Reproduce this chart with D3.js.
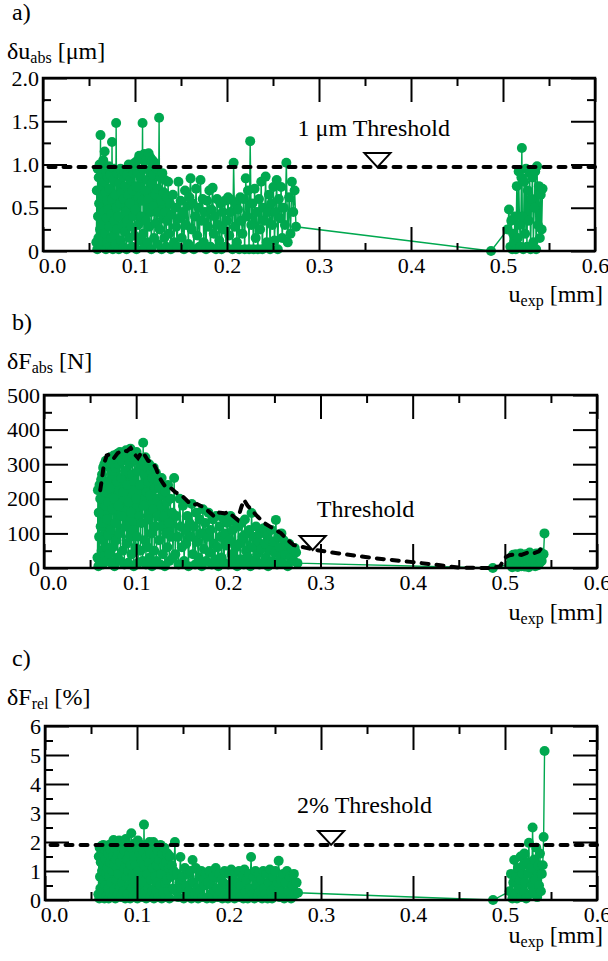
<!DOCTYPE html>
<html lang="en">
<head>
<meta charset="UTF-8">
<title>Abweichungen</title>
<script src="https://d3js.org/d3.v7.min.js"></script>
<style>
  body { margin: 0; background: #fff; }
  svg text { font-family: "Liberation Serif", "Times New Roman", serif; fill: #000; }
</style>
</head>
<body>
<script>
// measured displacement u_exp [mm], shared by all three panels
var uExp = [
  0.0580,0.0585,0.0590,0.0594,0.0598,0.0602,0.0606,0.0610,0.0615,0.0620,
  0.0625,0.0630,0.0634,0.0638,0.0642,0.0646,0.0650,0.0655,0.0660,0.0665,
  0.0670,0.0675,0.0680,0.0684,0.0688,0.0692,0.0696,0.0700,0.0705,0.0710,
  0.0715,0.0720,0.0725,0.0730,0.0735,0.0740,0.0745,0.0750,0.0755,0.0760,
  0.0765,0.0770,0.0775,0.0780,0.0785,0.0790,0.0795,0.0800,0.0806,0.0812,
  0.0818,0.0824,0.0830,0.0836,0.0842,0.0848,0.0854,0.0860,0.0866,0.0872,
  0.0878,0.0884,0.0890,0.0896,0.0902,0.0908,0.0914,0.0920,0.0926,0.0932,
  0.0938,0.0944,0.0950,0.0956,0.0962,0.0968,0.0974,0.0980,0.0986,0.0992,
  0.0998,0.1004,0.1010,0.1016,0.1022,0.1028,0.1034,0.1040,0.1046,0.1052,
  0.1058,0.1064,0.1070,0.1076,0.1082,0.1088,0.1094,0.1100,0.1106,0.1112,
  0.1118,0.1124,0.1130,0.1136,0.1142,0.1148,0.1154,0.1160,0.1166,0.1172,
  0.1178,0.1184,0.1190,0.1196,0.1202,0.1208,0.1214,0.1220,0.1227,0.1234,
  0.1241,0.1248,0.1255,0.1262,0.1269,0.1276,0.1283,0.1290,0.1297,0.1304,
  0.1311,0.1318,0.1325,0.1332,0.1339,0.1346,0.1353,0.1360,0.1370,0.1380,
  0.1390,0.1400,0.1412,0.1424,0.1436,0.1448,0.1460,0.1472,0.1484,0.1496,
  0.1508,0.1520,0.1532,0.1544,0.1556,0.1568,0.1580,0.1592,0.1604,0.1616,
  0.1628,0.1640,0.1652,0.1664,0.1676,0.1688,0.1700,0.1712,0.1724,0.1736,
  0.1748,0.1760,0.1772,0.1784,0.1796,0.1808,0.1820,0.1832,0.1844,0.1856,
  0.1868,0.1880,0.1892,0.1904,0.1916,0.1928,0.1940,0.1952,0.1964,0.1976,
  0.1988,0.2000,0.2012,0.2024,0.2036,0.2048,0.2060,0.2072,0.2084,0.2096,
  0.2108,0.2120,0.2132,0.2144,0.2156,0.2168,0.2180,0.2192,0.2204,0.2216,
  0.2228,0.2240,0.2252,0.2264,0.2276,0.2288,0.2300,0.2312,0.2324,0.2336,
  0.2348,0.2360,0.2372,0.2384,0.2396,0.2408,0.2420,0.2432,0.2444,0.2456,
  0.2468,0.2480,0.2492,0.2504,0.2516,0.2528,0.2540,0.2552,0.2564,0.2576,
  0.2588,0.2600,0.2615,0.2630,0.2645,0.2660,0.2675,0.2690,0.2705,0.2720,
  0.2735,0.2750,0.4870,0.5050,0.5065,0.5080,0.5090,0.5100,0.5110,0.5120,
  0.5130,0.5140,0.5150,0.5160,0.5170,0.5180,0.5190,0.5200,0.5205,0.5210,
  0.5220,0.5230,0.5240,0.5250,0.5260,0.5270,0.5280,0.5290,0.5300,0.5310,
  0.5320,0.5330,0.5340,0.5350,0.5360,0.5370,0.5380,0.5390,0.5400,0.5410,
  0.5420,0.5430
];

// a) absolute displacement error [um]
var duAbs = [
  0.10,0.70,0.02,0.95,0.40,0.15,0.85,0.55,1.00,0.25,
  1.34,0.05,0.62,0.90,0.30,0.75,0.12,1.05,0.45,0.80,
  1.15,0.20,0.68,0.02,0.92,0.38,0.58,0.10,0.85,0.48,
  0.98,0.28,0.72,0.05,0.88,0.42,0.15,1.26,0.60,0.02,
  0.82,0.35,0.95,0.18,0.65,0.08,1.48,0.50,0.25,0.90,
  0.40,0.02,0.78,0.55,0.95,0.12,0.68,0.30,0.86,0.05,
  0.60,0.92,0.22,0.75,0.45,0.02,0.88,0.35,0.65,1.00,
  0.15,0.55,0.82,0.28,0.95,0.05,0.70,0.40,0.90,0.18,
  1.02,0.48,0.75,0.02,0.92,1.05,0.30,0.62,1.10,0.12,
  0.85,0.40,1.08,0.58,1.48,0.20,0.95,1.12,0.05,0.70,
  0.35,1.05,0.82,0.10,0.60,1.13,0.28,0.92,1.08,0.45,
  0.02,0.78,1.05,0.52,0.88,0.15,1.02,0.65,0.32,0.95,
  0.08,0.72,0.45,1.54,0.25,0.85,0.58,0.02,0.90,0.38,
  0.68,0.15,0.82,0.45,0.05,0.62,0.35,0.80,0.20,0.55,
  0.02,0.42,0.65,0.10,0.50,0.28,0.05,0.80,0.38,0.58,
  0.15,0.45,0.02,0.70,0.30,0.52,0.08,0.62,0.84,0.25,
  0.55,0.02,0.40,0.72,0.18,0.50,0.05,0.82,0.35,0.60,
  0.10,0.45,0.02,0.58,0.28,0.70,0.05,0.48,0.73,0.20,
  0.40,0.02,0.60,0.30,0.12,0.55,0.02,0.45,0.25,0.58,
  0.05,0.35,0.62,0.18,0.45,0.59,0.02,1.02,0.28,0.55,
  0.10,0.48,0.02,0.62,0.35,0.20,0.60,0.02,0.84,0.40,
  0.70,0.02,1.27,0.30,0.55,0.02,0.72,0.15,0.45,0.02,
  0.60,0.25,0.80,0.02,0.50,0.35,0.86,0.10,0.45,0.65,
  0.02,0.55,0.30,0.74,0.12,0.45,0.82,0.02,0.60,0.38,
  0.74,0.15,0.50,0.30,1.02,0.10,0.62,0.20,0.80,0.45,
  0.70,0.28,0.00,0.25,0.48,0.05,0.35,0.02,0.20,0.10,
  0.40,0.02,0.75,0.15,0.92,0.30,0.05,0.85,1.19,0.40,
  0.02,0.80,0.20,0.95,0.05,0.70,0.35,0.90,0.02,0.60,
  0.85,0.10,0.50,0.92,0.02,0.98,0.30,0.75,0.15,0.65,
  0.25,0.72
];

// b) absolute force error [N]
var dFabs = [
  30,225,5,160,90,240,15,200,120,255,
  50,270,130,10,290,80,220,300,35,180,
  310,60,250,140,20,300,190,95,315,40,
  230,320,110,15,280,170,300,60,325,200,
  5,290,130,315,80,250,330,30,180,300,
  100,335,20,260,150,310,50,220,330,10,
  280,120,340,70,240,320,15,190,300,90,
  345,160,40,270,330,110,5,250,310,60,
  200,335,90,280,15,320,150,240,50,300,
  130,310,20,362,180,270,80,320,10,220,
  290,60,250,140,300,30,210,280,100,5,
  260,170,290,50,230,120,275,20,200,150,
  250,80,230,10,180,260,120,40,210,150,
  5,220,100,190,60,240,130,20,200,90,
  160,30,260,40,150,90,10,200,120,60,
  180,20,110,70,150,5,130,90,185,40,
  120,10,160,75,30,140,100,5,170,55,
  130,20,90,160,45,110,10,140,70,25,
  150,60,5,120,90,30,145,15,100,65,
  130,10,80,150,40,110,20,135,60,5,
  120,70,25,130,90,10,140,50,100,30,
  110,5,159,60,90,20,120,40,75,10,
  100,55,15,115,70,30,95,5,80,50,
  110,20,75,45,139,10,90,60,30,100,
  15,80,40,65,5,70,30,55,20,58,
  45,14,0,10,30,2,38,15,5,40,
  20,3,35,12,42,5,28,38,10,30,
  4,40,18,30,2,45,22,10,38,15,
  35,5,42,25,8,40,15,45,20,38,
  40,100
];

// c) relative force error [%]
var dFrel = [
  0.2,1.5,0.05,1.8,0.8,0.4,1.3,1.85,0.1,1.0,
  1.6,0.3,1.9,0.7,1.2,0.05,1.75,0.5,1.4,0.9,
  0.15,1.85,1.1,0.4,1.6,0.05,1.9,0.8,1.3,0.25,
  1.7,0.6,1.95,1.0,0.1,1.5,2.07,0.35,1.2,1.8,
  0.05,1.4,0.7,1.9,1.1,0.2,1.65,0.9,2.05,0.45,
  1.3,0.1,1.85,0.6,1.5,1.95,0.3,1.1,1.7,0.05,
  2.1,0.8,1.4,0.2,1.9,1.0,0.5,1.6,0.05,1.2,
  2.3,0.4,1.75,0.9,0.1,1.5,1.95,0.6,1.2,0.25,
  1.8,0.05,2.05,1.0,0.5,1.6,0.2,1.9,0.8,1.35,
  0.1,1.7,0.6,2.6,1.2,0.3,1.9,0.05,1.5,0.9,
  1.8,0.4,1.3,2.0,0.1,1.6,0.7,1.95,0.3,1.1,
  2.0,0.05,1.5,0.8,1.85,0.3,1.2,0.6,1.7,0.1,
  1.4,0.5,1.9,0.9,0.05,1.6,0.3,1.2,1.8,0.6,
  0.1,1.3,0.7,1.6,0.3,1.1,0.05,1.5,0.8,1.2,
  0.4,1.0,2.0,0.3,0.9,0.1,0.6,1.48,0.4,0.8,
  0.05,1.1,0.5,0.2,0.9,0.3,1.0,0.05,1.38,0.6,
  0.2,1.1,0.4,0.05,0.8,0.3,1.0,0.1,0.7,0.5,
  0.9,0.05,0.6,1.0,0.2,0.5,0.05,0.8,0.3,1.1,
  0.4,0.1,0.9,0.3,0.7,0.05,0.6,1.0,0.2,0.5,
  0.05,0.9,0.4,1.05,0.2,0.7,0.05,0.95,0.3,0.6,
  1.0,0.1,0.5,0.8,0.05,1.05,0.3,0.7,0.05,0.9,
  0.4,1.48,0.2,0.8,0.05,1.0,0.5,0.1,0.9,0.3,
  0.7,0.05,1.0,0.4,0.2,0.9,0.05,0.6,1.05,0.3,
  0.05,0.8,0.4,1.0,0.2,0.6,1.35,0.1,0.7,0.3,
  0.9,0.05,0.6,1.0,0.3,0.8,0.05,0.5,0.9,0.2,
  0.6,0.25,0.0,0.3,0.9,0.05,0.6,1.38,0.2,0.8,
  0.05,1.1,0.4,0.7,1.5,0.1,0.9,1.2,0.3,1.6,
  0.6,0.05,1.3,0.9,1.97,0.2,1.1,0.5,2.5,0.3,
  1.4,0.7,1.8,0.1,1.2,0.5,1.6,0.3,0.9,1.2,
  2.17,5.14
];

// force threshold curve of panel b
var thrU = [0.061,0.063,0.065,0.068,0.072,0.076,0.080,0.085,0.090,0.094,
            0.098,0.102,0.106,0.109,0.113,0.118,0.122,0.125,0.129,0.132,
            0.138,0.143,0.149,0.155,0.160,0.166,0.172,0.178,0.185,0.190,
            0.196,0.200,0.205,0.210,0.214,0.217,0.221,0.225,0.232,0.239,
            0.248,0.257,0.264,0.271,0.282,0.293,0.320,0.360,0.400,0.430,
            0.450,0.485,0.495,0.500,0.505,0.512,0.518,0.525,0.532,0.537,0.541];
var thrF = [225,260,300,325,330,318,332,340,338,347,
            330,318,335,327,310,306,285,263,245,234,
            230,218,211,195,182,185,177,165,148,160,
            158,162,150,139,175,197,180,168,148,130,
            115,101,82,66,60,53,42,28,17,8,
            1,0,5,30,37,40,38,45,43,48,62];
var thrAbsU = 0.97;   // 1 um line as drawn
var thrRel = 1.9;     // 2 % line as drawn

var xTicks = [0, 0.1, 0.2, 0.3, 0.4, 0.5, 0.6];
var xMinor = [0.05, 0.15, 0.25, 0.35, 0.45, 0.55];
var aTicks = [0, 0.5, 1.0, 1.5, 2.0];
var aMinor = [0.25, 0.75, 1.25, 1.75];
var bTicks = [0, 100, 200, 300, 400, 500];
var bMinor = [50, 150, 250, 350, 450];
var cTicks = [0, 1, 2, 3, 4, 5, 6];
var cMinor = [0.5, 1.5, 2.5, 3.5, 4.5, 5.5];

var W = 608, H = 961;
var green = "#00a84f";

var svg = d3.select("body").append("svg")
  .attr("width", W)
  .attr("height", H);

var panels = [
  { tag: "a)", tagY: 20, main: "δu", sub: "abs", unit: " [μm]", labY: 59,
    left: 43, right: 595, top: 78, bottom: 251, yMax: 2, yTicks: aTicks, yMinor: aMinor,
    yFmt: function(d){ return d === 0 ? "0" : d3.format(".1f")(d); },
    vals: duAbs, flat: thrAbsU, tri: [0.3635, 0.97],
    note: "1 μm Threshold", noteAt: [0.2767, 1.33], xlabY: 302 },
  { tag: "b)", tagY: 330, main: "δF", sub: "abs", unit: " [N]", labY: 369,
    left: 44, right: 597, top: 395, bottom: 568, yMax: 500, yTicks: bTicks, yMinor: bMinor,
    yFmt: d3.format("d"),
    vals: dFabs, flat: null, tri: [0.2915, 52],
    note: "Threshold", noteAt: [0.296, 147], xlabY: 620 },
  { tag: "c)", tagY: 666, main: "δF", sub: "rel", unit: " [%]", labY: 705,
    left: 45, right: 597, top: 726, bottom: 900, yMax: 6, yTicks: cTicks, yMinor: cMinor,
    yFmt: d3.format("d"),
    vals: dFrel, flat: thrRel, tri: [0.311, 1.9],
    note: "2% Threshold", noteAt: [0.274, 3.0], xlabY: 943 }
];

panels.forEach(drawPanel);

function drawPanel(p) {
  var g = svg.append("g");
  var x = d3.scaleLinear().domain([0, 0.6]).range([p.left, p.right]);
  var y = d3.scaleLinear().domain([0, p.yMax]).range([p.bottom, p.top]);

  // titles
  g.append("text").attr("x", 12).attr("y", p.tagY).attr("font-size", 24).text(p.tag);
  var t = g.append("text").attr("x", 7).attr("y", p.labY).attr("font-size", 24);
  t.append("tspan").text(p.main);
  t.append("tspan").attr("font-size", 16).attr("dy", 4).text(p.sub);
  t.append("tspan").attr("dy", -4).text(p.unit);

  var xl = g.append("text").attr("x", 603).attr("y", p.xlabY)
    .attr("font-size", 24).attr("text-anchor", "end");
  xl.append("tspan").text("u");
  xl.append("tspan").attr("font-size", 16).attr("dy", 4).text("exp");
  xl.append("tspan").attr("dy", -4).text(" [mm]");

  // data
  var line = d3.line()
    .x(function(d, i){ return x(uExp[i]); })
    .y(function(d){ return y(d); });
  g.append("path").datum(p.vals)
    .attr("d", line)
    .attr("fill", "none")
    .attr("stroke", green)
    .attr("stroke-width", 1.4);
  g.selectAll("circle").data(p.vals).enter().append("circle")
    .attr("cx", function(d, i){ return x(uExp[i]); })
    .attr("cy", function(d){ return y(d); })
    .attr("r", 5)
    .attr("fill", green);

  // threshold
  var dash;
  if (p.flat !== null) {
    dash = g.append("line")
      .attr("x1", x(0.006)).attr("x2", x(0.6))
      .attr("y1", y(p.flat)).attr("y2", y(p.flat));
  } else {
    dash = g.append("path")
      .attr("d", d3.line()
        .x(function(d, i){ return x(thrU[i]); })
        .y(function(d){ return y(d); })(thrF))
      .attr("fill", "none");
  }
  dash.attr("stroke", "#000")
    .attr("stroke-width", 4)
    .attr("stroke-dasharray", "7 8")
    .attr("stroke-linecap", "round");

  var tx = x(p.tri[0]), ty = y(p.tri[1]);
  g.append("path")
    .attr("d", "M" + tx + "," + ty + "L" + (tx - 13) + "," + (ty - 14) + "L" + (tx + 13) + "," + (ty - 14) + "Z")
    .attr("fill", "#fff")
    .attr("stroke", "#000")
    .attr("stroke-width", 2);
  g.append("text")
    .attr("x", x(p.noteAt[0])).attr("y", y(p.noteAt[1]))
    .attr("font-size", 24)
    .text(p.note);

  // axes, ticks pointing inward on all four sides
  function ax(gen, tr) {
    var a = g.append("g").attr("transform", tr).call(gen);
    a.select(".domain").remove();
    a.selectAll("line").attr("stroke", "#000").attr("stroke-width", 2);
    a.selectAll("text")
      .attr("font-size", 22)
      .attr("font-family", "Liberation Serif, Times New Roman, serif")
      .attr("fill", "#000");
    return a;
  }
  var bx = ax(d3.axisBottom(x).tickValues(xTicks).tickSize(-24).tickPadding(6)
      .tickFormat(d3.format(".1f")), "translate(0," + p.bottom + ")");
  bx.selectAll("text").filter(function(d){ return d === 0; }).attr("x", 9);
  ax(d3.axisBottom(x).tickValues(xMinor).tickSize(-8).tickFormat(""), "translate(0," + p.bottom + ")");
  ax(d3.axisTop(x).tickValues(xTicks).tickSize(-24).tickFormat(""), "translate(0," + p.top + ")");
  ax(d3.axisTop(x).tickValues(xMinor).tickSize(-8).tickFormat(""), "translate(0," + p.top + ")");
  ax(d3.axisLeft(y).tickValues(p.yTicks).tickSize(-24).tickPadding(4).tickFormat(p.yFmt),
     "translate(" + p.left + ",0)");
  ax(d3.axisLeft(y).tickValues(p.yMinor).tickSize(-8).tickFormat(""), "translate(" + p.left + ",0)");
  ax(d3.axisRight(y).tickValues(p.yTicks).tickSize(-24).tickFormat(""), "translate(" + p.right + ",0)");
  ax(d3.axisRight(y).tickValues(p.yMinor).tickSize(-8).tickFormat(""), "translate(" + p.right + ",0)");

  g.append("rect")
    .attr("x", p.left).attr("y", p.top)
    .attr("width", p.right - p.left).attr("height", p.bottom - p.top)
    .attr("fill", "none")
    .attr("stroke", "#000")
    .attr("stroke-width", 2.5);
}
</script>
</body>
</html>
